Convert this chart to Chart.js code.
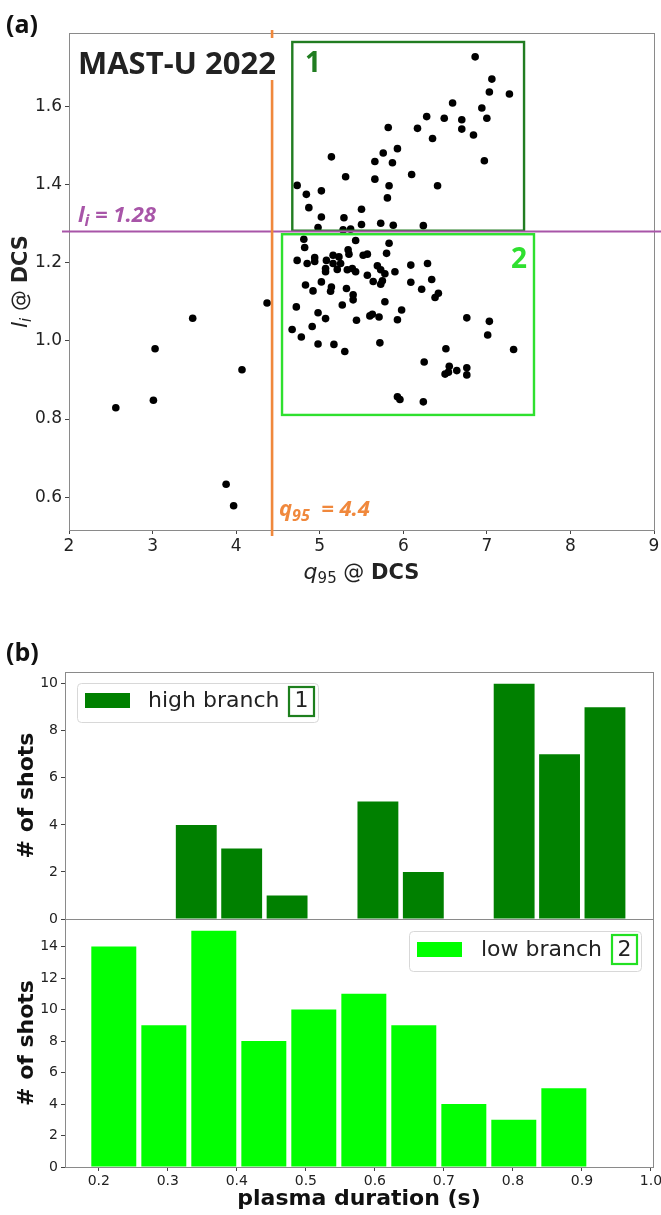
<!DOCTYPE html>
<html><head><meta charset="utf-8">
<script src="https://cdn.jsdelivr.net/npm/chart.js@4.4.1/dist/chart.umd.min.js"></script>
<style>
html,body{margin:0;padding:0;background:#fff;}
body{width:661px;height:1215px;position:relative;overflow:hidden;}
canvas{position:absolute;left:0;}
</style></head><body>
<canvas id="sc" width="661" height="600" style="top:0px"></canvas>
<canvas id="lo" width="661" height="315" style="top:900px"></canvas>
<canvas id="hi" width="661" height="292" style="top:640px"></canvas>
<script>
// ---------- DATA ----------
const q95Values = [6.86,7.06,7.03,7.27,6.59,6.94,7.00,6.28,6.49,6.70,5.82,6.17,6.70,6.35,6.84,5.93,5.76,5.14,5.66,5.87,6.97,6.10,5.31,5.66,5.83,6.41,4.73,4.84,5.02,5.81,4.87,5.50,5.02,5.29,5.50,5.73,5.88,6.24,4.98,5.28,5.37,
4.81,4.82,5.43,5.83,5.80,5.34,5.35,5.57,5.52,5.16,5.23,4.94,4.94,4.73,4.85,5.08,5.16,5.25,5.07,5.07,5.21,5.33,5.39,5.43,5.69,5.73,5.78,5.90,6.09,6.29,5.57,5.64,5.75,5.73,6.09,6.34,4.83,5.02,4.92,5.14,5.13,5.32,6.22,6.42,6.38,5.40,5.40,5.78,4.72,5.27,4.98,5.07,5.44,5.60,5.63,5.71,5.98,5.93,4.67,4.91,4.78,4.98,5.17,5.30,5.72,6.76,7.03,7.01,6.51,7.32,6.25,6.55,6.64,6.50,6.54,6.76,6.76,5.93,5.96,6.24,
4.37,3.48,3.03,4.07,2.56,3.01,3.88,3.97];
const liValues = [1.727,1.670,1.637,1.632,1.609,1.596,1.570,1.574,1.570,1.566,1.546,1.544,1.542,1.518,1.527,1.492,1.481,1.471,1.459,1.456,1.461,1.426,1.420,1.414,1.397,1.397,1.398,1.375,1.384,1.366,1.341,1.337,1.317,1.315,1.298,1.301,1.296,1.295,1.290,1.284,1.286,
1.260,1.239,1.257,1.250,1.224,1.233,1.222,1.222,1.219,1.219,1.215,1.213,1.203,1.206,1.198,1.206,1.198,1.198,1.185,1.177,1.183,1.182,1.185,1.177,1.192,1.182,1.172,1.177,1.194,1.198,1.168,1.152,1.154,1.145,1.150,1.157,1.143,1.151,1.128,1.138,1.127,1.134,1.132,1.122,1.111,1.118,1.105,1.100,1.087,1.092,1.072,1.057,1.053,1.064,1.068,1.061,1.079,1.054,1.029,1.037,1.010,0.992,0.991,0.973,0.995,1.059,1.050,1.015,0.980,0.978,0.946,0.935,0.924,0.915,0.920,0.931,0.913,0.857,0.850,0.844,
1.097,1.058,0.980,0.926,0.829,0.848,0.633,0.578];
const scatterXTicks = [2,3,4,5,6,7,8,9];
const scatterYTicks = [0.6,0.8,1.0,1.2,1.4,1.6];
const q95Threshold = 4.43;   // drawn line, labelled "4.4"
const liThreshold = 1.28;
const branch1Box = {x0:4.672, x1:7.445, y0:1.282, y1:1.765};
const branch2Box = {x0:4.549, x1:7.564, y0:0.8105, y1:1.273};

const highBinCenters = [0.3412,0.4070,0.4728,0.5386,0.6044,0.6702,0.7360,0.8018,0.8676,0.9334];
const highCounts     = [4,3,1,0,5,2,0,10,7,9];
const lowBinCenters  = [0.2217,0.2942,0.3666,0.4391,0.5115,0.5840,0.6564,0.7289,0.8013,0.8738];
const lowCounts      = [14,9,15,8,10,11,9,4,3,5];
const histXTicks = [0.2,0.3,0.4,0.5,0.6,0.7,0.8,0.9,1.0];
const highYTicks = [0,2,4,6,8,10];
const lowYTicks  = [0,2,4,6,8,10,12,14];

// ---------- STYLE ----------
const C_PURPLE = '#a855a8', C_ORANGE = '#f0883c', C_DKGREEN = '#217d21', C_LIME = '#2fe02f';
const SPINE = '#8a8a8a', TICKC = '#444', TXT = '#222';
const DJ = "'DejaVu Sans', sans-serif", OS = "'Open Sans', 'DejaVu Sans', sans-serif";

function runs(ctx, list, x, y, align, rot) {
  ctx.save(); ctx.translate(x, y); if (rot) ctx.rotate(rot);
  let total = 0;
  list.forEach(r => { ctx.font = r.font; r.w = ctx.measureText(r.text).width; total += r.w; });
  let cx = align === 'center' ? -total / 2 : 0;
  ctx.textAlign = 'left'; ctx.textBaseline = 'alphabetic';
  list.forEach(r => { ctx.font = r.font; ctx.fillStyle = r.color || TXT; ctx.fillText(r.text, cx, r.dy || 0); cx += r.w; });
  ctx.restore();
}
function frame(chart) {
  const a = chart.chartArea, ctx = chart.ctx;
  ctx.save(); ctx.strokeStyle = SPINE; ctx.lineWidth = 1;
  ctx.strokeRect(Math.round(a.left) + 0.5, Math.round(a.top) + 0.5, Math.round(a.right - a.left), Math.round(a.bottom - a.top));
  ctx.restore();
}
const fixedTicks = arr => (s => { s.ticks = arr.map(v => ({ value: v })); });
const fitY = w => (s => { s.width = w; s.paddingTop = 0; s.paddingBottom = 0; });
const fitX = h => (s => { s.height = h; s.paddingLeft = 0; s.paddingRight = 0; });

// ---------- SCATTER ----------
const scatterDecor = {
  id: 'scatterDecor',
  afterDatasetsDraw(chart) {
    const ctx = chart.ctx, xs = chart.scales.x, ys = chart.scales.y;
    frame(chart);
    ctx.save();
    ctx.lineWidth = 2.4;
    [[branch2Box, C_LIME], [branch1Box, C_DKGREEN]].forEach(([b, c]) => {
      const x0 = xs.getPixelForValue(b.x0), x1 = xs.getPixelForValue(b.x1);
      const y0 = ys.getPixelForValue(b.y1), y1 = ys.getPixelForValue(b.y0);
      ctx.strokeStyle = c; ctx.strokeRect(x0, y0, x1 - x0, y1 - y0);
    });
    const py = ys.getPixelForValue(liThreshold);
    ctx.strokeStyle = C_PURPLE; ctx.lineWidth = 2.2;
    ctx.beginPath(); ctx.moveTo(62, py); ctx.lineTo(661, py); ctx.stroke();
    const px = xs.getPixelForValue(q95Threshold);
    ctx.strokeStyle = C_ORANGE; ctx.lineWidth = 2.6;
    ctx.beginPath(); ctx.moveTo(px, 30); ctx.lineTo(px, 536); ctx.stroke();
    ctx.fillStyle = '#fff'; ctx.fillRect(76, 38, 206, 42);
    ctx.restore();
    runs(ctx, [{ text: 'MAST-U 2022', font: `bold 31px ${OS}`, color: '#222' }], 78, 74);
    runs(ctx, [{ text: '1', font: `bold 28px ${OS}`, color: C_DKGREEN }], 305, 72);
    runs(ctx, [{ text: '2', font: `bold 28px ${OS}`, color: C_LIME }], 511, 268);
    runs(ctx, [
      { text: 'l', font: `italic bold 22px ${OS}`, color: C_PURPLE },
      { text: 'i', font: `italic bold 16px ${OS}`, color: C_PURPLE, dy: 4 },
      { text: ' = 1.28', font: `italic bold 22px ${OS}`, color: C_PURPLE }], 78, 222);
    runs(ctx, [
      { text: 'q', font: `italic bold 22px ${OS}`, color: C_ORANGE },
      { text: '95', font: `italic bold 16px ${OS}`, color: C_ORANGE, dy: 5 },
      { text: '  = 4.4', font: `italic bold 22px ${OS}`, color: C_ORANGE }], 279, 516);
    runs(ctx, [{ text: '(a)', font: `bold 25px ${OS}`, color: '#111' }], 6, 33);
    const a = chart.chartArea;
    runs(ctx, [
      { text: 'q', font: `italic 22px ${DJ}` },
      { text: '95', font: `15px ${DJ}`, dy: 4 },
      { text: ' @ ', font: `21px ${DJ}` },
      { text: 'DCS', font: `bold 21px ${DJ}` }], (a.left + a.right) / 2, 579, 'center');
    runs(ctx, [
      { text: 'l', font: `italic 22px ${DJ}` },
      { text: 'i', font: `italic 15px ${DJ}`, dy: 4 },
      { text: ' @ ', font: `21px ${DJ}` },
      { text: 'DCS', font: `bold 21px ${DJ}` }], 27, (a.top + a.bottom) / 2, 'center', -Math.PI / 2);
  }
};

new Chart(document.getElementById('sc'), {
  type: 'scatter',
  data: { datasets: [{ data: q95Values.map((x, i) => ({ x, y: liValues[i] })),
    backgroundColor: '#000', borderColor: '#000', borderWidth: 0, pointRadius: 3.8, pointHoverRadius: 3.8 }] },
  options: {
    responsive: false, animation: false, devicePixelRatio: 1, events: [],
    layout: { padding: { left: 0, right: 7, top: 33, bottom: 0 } },
    plugins: { legend: { display: false }, tooltip: { enabled: false } },
    scales: {
      x: { type: 'linear', min: 2, max: 9, afterBuildTicks: fixedTicks(scatterXTicks), afterFit: fitX(70),
        grid: { drawOnChartArea: false, tickLength: 4, color: TICKC }, border: { display: false },
        ticks: { color: TXT, font: { family: DJ, size: 17 }, padding: 2, maxRotation: 0, autoSkip: false, callback: v => String(v) } },
      y: { type: 'linear', min: 0.516, max: 1.788, afterBuildTicks: fixedTicks(scatterYTicks), afterFit: fitY(69),
        grid: { drawOnChartArea: false, tickLength: 4, color: TICKC }, border: { display: false },
        ticks: { color: TXT, font: { family: DJ, size: 17 }, padding: 3, autoSkip: false, callback: v => Number(v).toFixed(1) } }
    }
  },
  plugins: [scatterDecor]
});

// ---------- HISTOGRAMS ----------
function legendPlugin(cfg) {
  return {
    id: 'legendBox',
    afterDatasetsDraw(chart) {
      const ctx = chart.ctx;
      frame(chart);
      ctx.save();
      ctx.beginPath(); ctx.roundRect(cfg.fx + 0.5, cfg.fy + 0.5, cfg.fw, cfg.fh, 4);
      ctx.fillStyle = 'rgba(255,255,255,0.85)'; ctx.fill();
      ctx.strokeStyle = '#d8d8d8'; ctx.lineWidth = 1; ctx.stroke();
      ctx.fillStyle = cfg.color; ctx.fillRect(cfg.px, cfg.py, 45, 15);
      ctx.font = `22px ${DJ}`; ctx.fillStyle = TXT; ctx.textBaseline = 'middle'; ctx.textAlign = 'left';
      ctx.fillText(cfg.label, cfg.tx, cfg.ty);
      ctx.strokeStyle = cfg.boxColor; ctx.lineWidth = 2.2;
      ctx.strokeRect(cfg.bx, cfg.by, 25, 29);
      ctx.textAlign = 'center';
      ctx.fillText(cfg.num, cfg.bx + 12.5, cfg.ty);
      ctx.restore();
      const a = chart.chartArea;
      runs(ctx, [{ text: '# of shots', font: `bold 22px ${DJ}`, color: '#111' }], 33, (a.top + a.bottom) / 2, 'center', -Math.PI / 2);
      if (cfg.extra) cfg.extra(chart);
    }
  };
}

function histChart(id, centers, counts, yTicks, ymax, color, padTop, xHeight, showX, legendCfg) {
  return new Chart(document.getElementById(id), {
    type: 'bar',
    data: { datasets: [{ data: centers.map((x, i) => ({ x, y: counts[i] })), backgroundColor: color,
      borderWidth: 0, barPercentage: 0.9, categoryPercentage: 1.0 }] },
    options: {
      responsive: false, animation: false, devicePixelRatio: 1, events: [],
      layout: { padding: { left: 0, right: 8, top: padTop, bottom: 0 } },
      plugins: { legend: { display: false }, tooltip: { enabled: false } },
      scales: {
        x: { type: 'linear', min: 0.151, max: 1.003, offset: false, afterBuildTicks: fixedTicks(histXTicks),
          afterFit: fitX(xHeight),
          grid: { display: showX, offset: false, drawOnChartArea: false, tickLength: 4, color: TICKC }, border: { display: false },
          ticks: { display: showX, color: TXT, font: { family: DJ, size: 14 }, padding: 2, maxRotation: 0, autoSkip: false,
            callback: v => Number(v).toFixed(1) } },
        y: { type: 'linear', min: 0, max: ymax, afterBuildTicks: fixedTicks(yTicks), afterFit: fitY(65),
          grid: { drawOnChartArea: false, tickLength: 4, color: TICKC }, border: { display: false },
          ticks: { color: TXT, font: { family: DJ, size: 14 }, padding: 3, autoSkip: false, callback: v => String(v) } }
      }
    },
    plugins: [legendPlugin(legendCfg)]
  });
}

histChart('hi', highBinCenters, highCounts, highYTicks, 10.5, '#008000', 32, 13, false, {
  fx: 77, fy: 43, fw: 241, fh: 39, px: 85, py: 53, tx: 148, ty: 61, label: 'high branch',
  bx: 289, by: 47, num: '1', color: '#008000', boxColor: '#1d7f1d',
  extra: chart => runs(chart.ctx, [{ text: '(b)', font: `bold 25px ${OS}`, color: '#111' }], 6, 21)
});
histChart('lo', lowBinCenters, lowCounts, lowYTicks, 15.75, '#00ff00', 19, 48, true, {
  fx: 409, fy: 31, fw: 232, fh: 40, px: 417, py: 42, tx: 481, ty: 50, label: 'low branch',
  bx: 612, by: 35, num: '2', color: '#00ff00', boxColor: '#22e022',
  extra: chart => {
    const a = chart.chartArea;
    runs(chart.ctx, [{ text: 'plasma duration (s)', font: `bold 22px ${DJ}`, color: '#111' }], (a.left + a.right) / 2, 305, 'center');
  }
});
</script>
</body></html>
